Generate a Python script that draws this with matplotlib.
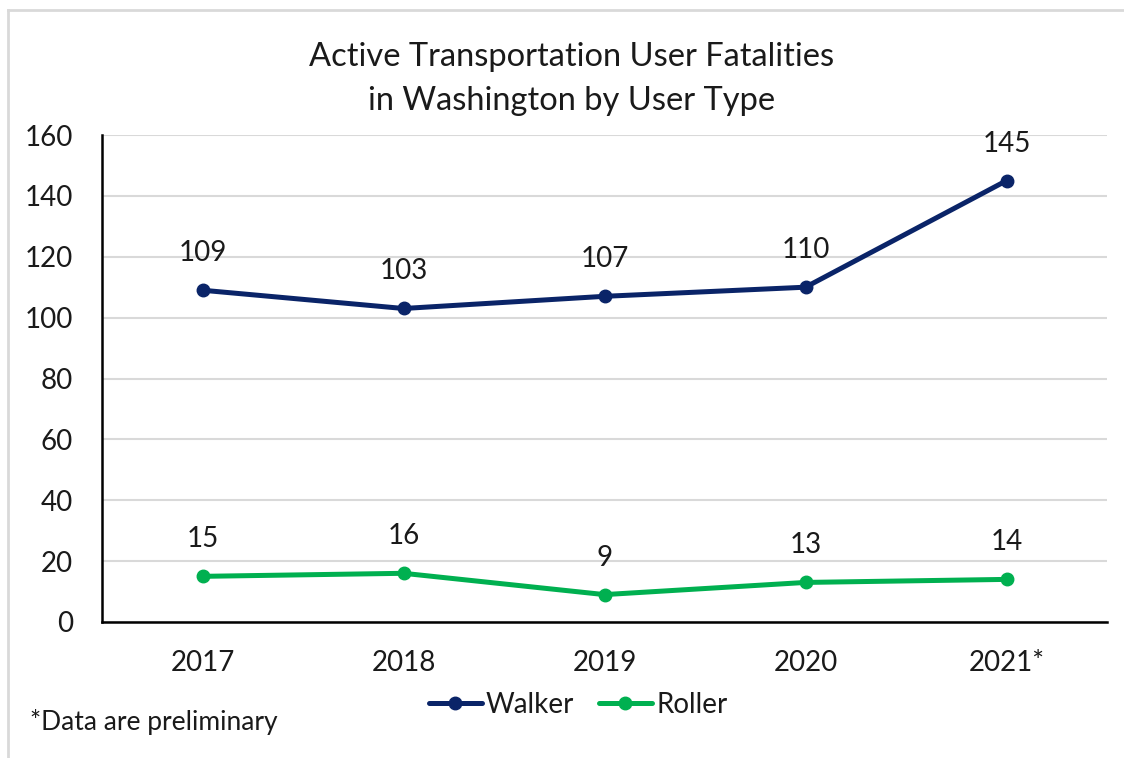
import matplotlib
matplotlib.use("Agg")
import matplotlib.pyplot as plt
from matplotlib.lines import Line2D

years = ["2017", "2018", "2019", "2020", "2021*"]
walker = [109, 103, 107, 110, 145]
roller = [15, 16, 9, 13, 14]
yticks = [0, 20, 40, 60, 80, 100, 120, 140, 160]

WALKER_C = "#0a2468"
ROLLER_C = "#00b050"
FONT = ["Lato", "DejaVu Sans"]
plt.rcParams['font.family'] = FONT
TXT = "#1a1a1a"
FS = 20

fig = plt.figure(figsize=(11.24, 7.58), dpi=100)
W, H = 1124, 758
ax = fig.add_axes([102 / W, 1 - 622 / H, (1107 - 102) / W, (622 - 135) / H])

x = list(range(len(years)))
ax.plot(x, walker, color=WALKER_C, lw=3.6, marker="o", ms=9, solid_capstyle="round", label="Walker", zorder=3)
ax.plot(x, roller, color=ROLLER_C, lw=3.6, marker="o", ms=9, solid_capstyle="round", label="Roller", zorder=3)

for xi, v in zip(x, walker):
    ax.annotate(str(v), (xi, v), xytext=(0, 37), textcoords="offset pixels",
                ha="center", va="center", fontsize=FS, color=TXT)
for xi, v in zip(x, roller):
    ax.annotate(str(v), (xi, v), xytext=(0, 37), textcoords="offset pixels",
                ha="center", va="center", fontsize=FS, color=TXT)

ax.set_xlim(-0.5, 4.5)
ax.set_ylim(0, 160)
ax.set_yticks(yticks)
ax.set_xticks(x)
ax.set_xticklabels(years)
ax.tick_params(axis="both", length=0, labelsize=FS, labelcolor=TXT)
ax.tick_params(axis="y", pad=21)
ax.tick_params(axis="x", pad=20)
ax.grid(axis="y", color="#d9d9d9", lw=1.5, zorder=0)
ax.set_axisbelow(True)
for s in ["top", "right"]:
    ax.spines[s].set_visible(False)
for s in ["left", "bottom"]:
    ax.spines[s].set_color("black")
    ax.spines[s].set_linewidth(1.8)

fig.text(572 / W, 1 - 79 / H, "Active Transportation User Fatalities\nin Washington by User Type",
         ha="center", va="center", fontsize=23.5, color=TXT, linespacing=1.55)

leg = fig.legend(loc="center", bbox_to_anchor=(578 / W, 1 - 705 / H), ncol=2, frameon=False,
                 fontsize=FS, handlelength=1.9, handletextpad=0.15, columnspacing=0.9)
for t in leg.get_texts():
    t.set_color(TXT)

fig.text(30 / W, 1 - 722 / H, "*Data are preliminary", ha="left", va="center", fontsize=19, color=TXT)

fig.add_artist(Line2D([8 / W, 1], [1 - 10 / H, 1 - 10 / H], transform=fig.transFigure, color="#d9d9d9", lw=2))
fig.add_artist(Line2D([8 / W, 8 / W], [0, 1 - 10 / H], transform=fig.transFigure, color="#d9d9d9", lw=2))

fig.savefig("out.png", dpi=100)
